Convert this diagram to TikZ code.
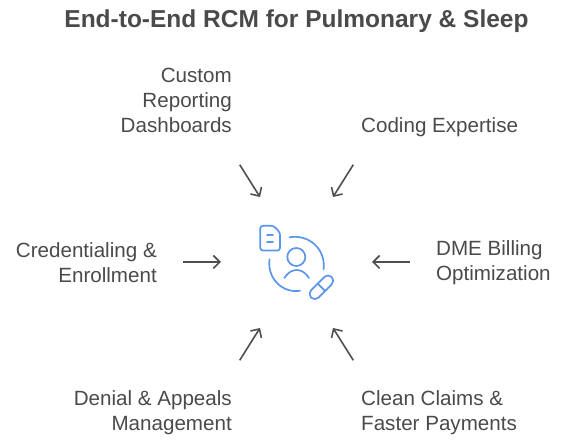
\documentclass[tikz,border=0pt]{standalone}
\usepackage{fontspec}
\setmainfont{Liberation Sans}
\usetikzlibrary{arrows.meta}
\definecolor{txt}{HTML}{4A4A4A}
\definecolor{arr}{HTML}{4F4F4F}
\definecolor{ico}{HTML}{5B96EC}
\tikzset{
 lab/.style={font=\fontsize{20.6}{25}\selectfont,text=txt,inner sep=0pt},
 labr/.style={lab,anchor=east,align=right},
 labl/.style={lab,anchor=west,align=left},
 conn/.style={draw=arr,line width=1.6pt,-{Straight Barb[length=6.5pt,width=13pt,line width=1.6pt]}},
 icon/.style={draw=ico,line width=1.7pt,line cap=round,line join=round},
}
\begin{document}
\begin{tikzpicture}[x=1pt,y=-1pt]
\useasboundingbox (0,0) rectangle (574,446);
\node[font=\bfseries\fontsize{24.5}{28}\selectfont,text=txt,inner sep=0pt] (title) at (296.5,21.5) {End-to-End RCM for Pulmonary \& Sleep};
\node[labr] (custom) at (232,100.5) {Custom\\Reporting\\Dashboards};
\node[labl] (coding) at (361,127) {Coding Expertise};
\node[labr] (cred) at (157,263) {Credentialing \&\\Enrollment};
\node[labl] (dme) at (436,263) {DME Billing\\Optimization};
\node[labr] (denial) at (232,413) {Denial \& Appeals\\Management};
\node[labl] (clean) at (361,413) {Clean Claims \&\\Faster Payments};
\coordinate (a1s) at (239.7,164.7); \coordinate (a1e) at (260,197);
\coordinate (a2s) at (353.3,164.7); \coordinate (a2e) at (333,197);
\coordinate (a3s) at (183.3,262); \coordinate (a3e) at (221,262);
\coordinate (a4s) at (409.7,262); \coordinate (a4e) at (372,262);
\coordinate (a5s) at (239.7,360.3); \coordinate (a5e) at (260,328);
\coordinate (a6s) at (353.3,360.3); \coordinate (a6e) at (333,328);
\foreach \n in {1,...,6} \draw[conn] (a\n s) -- (a\n e);
% icon
\draw[icon,rounded corners=2.5pt] (260.3,225.8) -- (273.5,225.8) -- (280,232.5) -- (280,250.5) -- (260.3,250.5) -- cycle;
\draw[icon] (267,235) -- (273,235) (267,242.3) -- (273,242.3);
\draw[icon] (289.5,237.3) .. controls (309,234) and (326,249) .. (323.6,269.5);
\draw[icon] (269.5,259.3) .. controls (267,279) and (283,293.5) .. (300,290.8);
\draw[icon] (296.3,257) circle[radius=9];
\draw[icon] (284.3,278) .. controls (288,272.5) and (292,270) .. (296.6,270) .. controls (301.2,270) and (305.5,272.5) .. (309,278);
\begin{scope}[shift={(321.4,287.3)},rotate=45]
\draw[icon,rounded corners=5pt] (-14.5,-5.2) rectangle (14.5,5.2);
\draw[icon] (0,-5.2) -- (0,5.2);
\end{scope}
\end{tikzpicture}
\end{document}
